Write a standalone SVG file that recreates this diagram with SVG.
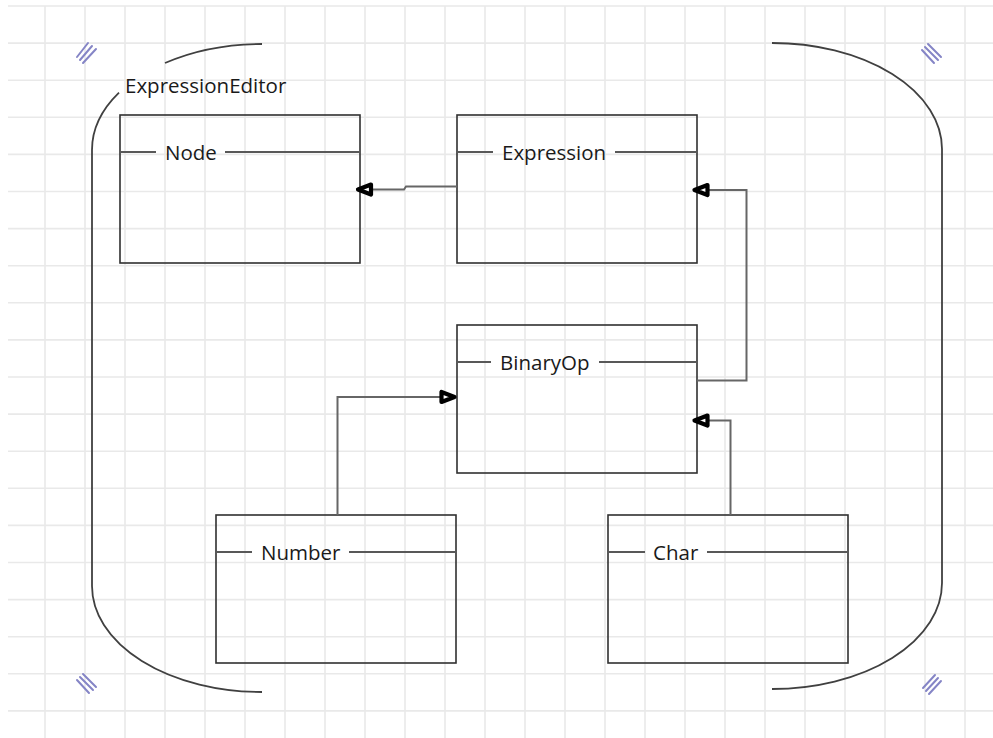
<svg xmlns="http://www.w3.org/2000/svg" width="993" height="738" viewBox="0 0 993 738">
  <style>
    .grid { stroke: #e9e9e9; stroke-width: 1.6; fill: none; }
    .bracket { stroke: #404040; stroke-width: 1.8; fill: none; }
    .hatch { stroke: #8585c6; stroke-width: 2; stroke-linecap: round; }
    .box { stroke: #303030; stroke-width: 1.6; fill: none; }
    .title { stroke: #585858; stroke-width: 2; }
    .lbl { font-family: "Open Sans", "Noto Sans", sans-serif; font-size: 20.5px; fill: #1a1a1a; }
    .conn { stroke: #666; stroke-width: 2; fill: none; }
    .head { fill: #fff; stroke: #000; stroke-width: 4.2; stroke-linejoin: round; }
  </style>
  <defs>
    <!-- open triangle (generalization) pointing in +x, tip at origin -->
    <path id="tri" d="M0,0 L-13,-5 L-13,5 Z"/>
  </defs>
  <rect width="993" height="738" fill="#fff"/>

  <!-- background grid -->
  <path class="grid" d="M45,6V738 M85,6V738 M125,6V738 M165,6V738 M205,6V738 M245,6V738 M285,6V738 M325,6V738 M365,6V738 M405,6V738 M445,6V738 M485,6V738 M525,6V738 M565,6V738 M605,6V738 M645,6V738 M685,6V738 M725,6V738 M765,6V738 M805,6V738 M845,6V738 M885,6V738 M925,6V738 M965,6V738
    M8,6H993 M8,43.1H993 M8,80.2H993 M8,117.3H993 M8,154.4H993 M8,191.5H993 M8,228.6H993 M8,265.7H993 M8,302.8H993 M8,339.9H993 M8,377H993 M8,414.1H993 M8,451.2H993 M8,488.3H993 M8,525.4H993 M8,562.5H993 M8,599.6H993 M8,636.7H993 M8,673.8H993 M8,710.9H993"/>

  <!-- package frame: ExpressionEditor -->
  <g id="ExpressionEditor">
    <path class="bracket" d="M262,44 A170,106 0 0 0 165,63"/>
    <path class="bracket" d="M119,92.7 A170,106 0 0 0 92,150 L92,586 A170,106 0 0 0 262,692"/>
    <path class="bracket" d="M772,43 A170,106 0 0 1 942,149 L942,583 A170,106 0 0 1 772,689"/>
    <text class="lbl" x="125" y="93">ExpressionEditor</text>
    <g class="hatch">
      <line x1="77" y1="57" x2="88" y2="43"/>
      <line x1="80" y1="60" x2="92" y2="46"/>
      <line x1="83" y1="63" x2="96" y2="49"/>
      <line x1="922" y1="50" x2="934" y2="63"/>
      <line x1="925" y1="47" x2="938" y2="60"/>
      <line x1="928" y1="44" x2="941" y2="57"/>
      <line x1="77" y1="680" x2="89" y2="693"/>
      <line x1="80" y1="677" x2="93" y2="690"/>
      <line x1="83" y1="674" x2="96" y2="687"/>
      <line x1="923" y1="688" x2="935" y2="675"/>
      <line x1="926" y1="691" x2="938" y2="678"/>
      <line x1="929" y1="694" x2="941" y2="681"/>
    </g>
  </g>

  <!-- classes -->
  <g id="Node">
    <rect class="box" x="120" y="115" width="240" height="148"/>
    <line class="title" x1="120" y1="152" x2="156" y2="152"/>
    <line class="title" x1="225" y1="152" x2="360" y2="152"/>
    <text class="lbl" x="165" y="160">Node</text>
  </g>
  <g id="Expression">
    <rect class="box" x="457" y="115" width="240" height="148"/>
    <line class="title" x1="457" y1="152" x2="493" y2="152"/>
    <line class="title" x1="615" y1="152" x2="697" y2="152"/>
    <text class="lbl" x="502" y="160">Expression</text>
  </g>
  <g id="BinaryOp">
    <rect class="box" x="457" y="325" width="240" height="148"/>
    <line class="title" x1="457" y1="362" x2="491" y2="362"/>
    <line class="title" x1="599" y1="362" x2="697" y2="362"/>
    <text class="lbl" x="500" y="370">BinaryOp</text>
  </g>
  <g id="Number">
    <rect class="box" x="216" y="515" width="240" height="148"/>
    <line class="title" x1="216" y1="552" x2="252" y2="552"/>
    <line class="title" x1="349" y1="552" x2="456" y2="552"/>
    <text class="lbl" x="261" y="560">Number</text>
  </g>
  <g id="Char">
    <rect class="box" x="608" y="515" width="240" height="148"/>
    <line class="title" x1="608" y1="552" x2="645" y2="552"/>
    <line class="title" x1="707" y1="552" x2="848" y2="552"/>
    <text class="lbl" x="653" y="560">Char</text>
  </g>

  <!-- generalization connectors -->
  <g id="connectors">
    <path class="conn" d="M457,186.5 L406,186.5 L404,189.5 L365,189.5"/>
    <path class="conn" d="M697,380.5 L746.5,380.5 L746.5,190 L700,190"/>
    <path class="conn" d="M730.5,515 L730.5,420.5 L700,420.5"/>
    <path class="conn" d="M337.5,515 L337.5,397 L448,397"/>
    <use href="#tri" class="head" transform="translate(358,189.5) rotate(180)"/>
    <use href="#tri" class="head" transform="translate(694.5,190) rotate(180)"/>
    <use href="#tri" class="head" transform="translate(694.5,420.5) rotate(180)"/>
    <use href="#tri" class="head" transform="translate(454.5,397)"/>
  </g>
</svg>
